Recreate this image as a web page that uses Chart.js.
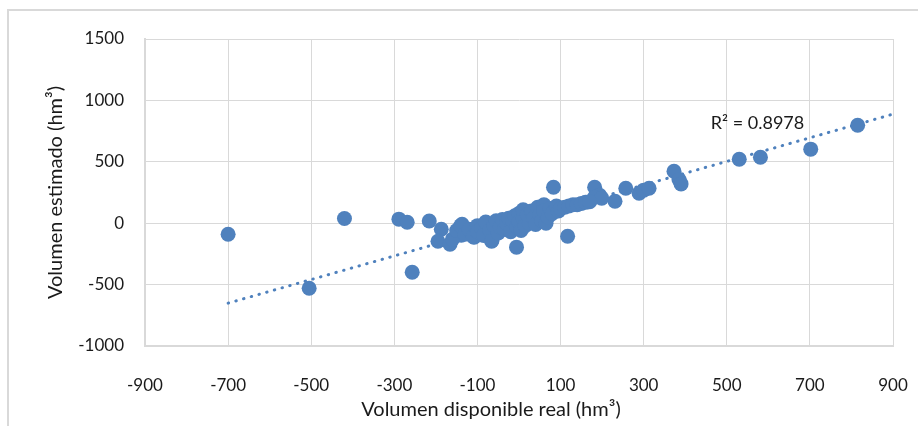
<!DOCTYPE html>
<html>
<head>
<meta charset="utf-8">
<script src="https://cdn.jsdelivr.net/npm/chart.js@4/dist/chart.umd.min.js"></script>
<style>
  html, body { margin: 0; padding: 0; background: #fff; }
  #wrap { position: relative; width: 918px; height: 426px; overflow: hidden; }
  #frame { position: absolute; left: 7px; top: 9px; width: 2000px; height: 2000px;
           border-left: 2px solid #d9d9d9; border-top: 2px solid #d9d9d9; }
  canvas { position: absolute; left: 0; top: 0; }
</style>
</head>
<body>
<div id="wrap">
  <div id="frame"></div>
  <canvas id="c" width="918" height="426"></canvas>
</div>
<script>
// Observed points: real available volume (x) vs estimated volume (y), hm3
const realX = [
  -700, -505, -420, -289, -269, -257, -216,
  -187, -195, -166, -137, -139, -108, -66, -6,
  83, 117, 182, 194, 182, 231, 199, 257, 289, 300, 313,
  373, 385, 390, 530, 581, 702, 815,
  -160, -150, -140, -130, -120, -110, -100, -100, -90, -85,
  -80, -70, -65, -60, -55, -50, -45, -40, -35, -30,
  -25, -20, -15, -10, -5, 0, 0, 5, 10, 10,
  15, 20, 25, 30, 35, 40, 45, 50, 55, 60,
  60, 65, 70, 75, 80, 90, 95, 100, 110, 120,
  130, 140, 150, 160, 170
];
const estY = [
  -90, -530, 38, 33, 8, -399, 18,
  -49, -147, -171, -8, -98, -114, -147, -195,
  293, -106, 293, 228, 212, 179, 204, 285, 244, 269, 285,
  423, 355, 320, 521, 537, 603, 798,
  -130, -60, -20, -90, -50, -110, -20, -70, -40, -100,
  10, -60, -140, -20, 20, -80, -30, 30, -50, 0,
  40, -70, 20, 60, -30, 80, 10, -60, 40, 110,
  -20, 70, 0, 100, 40, -10, 130, 70, 20, 150,
  100, 0, 50, 120, 80, 140, 100, 120, 130, 140,
  150, 150, 160, 170, 175
];
// Linear trendline endpoints
const trendX = [-700, 900];
const trendY = [-651, 888];
const r2Label = 'R² = 0.8978';
const xTitle = 'Volumen disponible real (hm³)';
const yTitle = 'Volumen estimado (hm³)';
const xTicks = [-900, -700, -500, -300, -100, 100, 300, 500, 700, 900];
const yTicks = [-1000, -500, 0, 500, 1000, 1500];

const blue = '#4f81bd';
const grid = '#d9d9d9';
const family = 'Lato, "Open Sans", sans-serif';
const tickFont = { family: family, size: 17 };
const titleFont = { family: family, size: 20 };

const points = realX.map((x, i) => ({ x: x, y: estY[i] }));
const trend = trendX.map((x, i) => ({ x: x, y: trendY[i] }));

const textPlugin = {
  id: 'texts',
  afterDatasetsDraw(chart) {
    const ctx = chart.ctx;
    const xs = chart.scales.x, ys = chart.scales.y;
    ctx.save();
    ctx.fillStyle = '#1a1a1a';
    ctx.textAlign = 'center';
    ctx.textBaseline = 'middle';
    ctx.font = '18px ' + family;
    ctx.fillText(r2Label, xs.getPixelForValue(574), ys.getPixelForValue(814));
    // Excel centres this axis title on the chart frame, not on the plot area
    ctx.font = '20px ' + family;
    ctx.fillText(xTitle, 491, 410);
    ctx.restore();
  }
};

new Chart(document.getElementById('c'), {
  type: 'scatter',
  data: {
    datasets: [
      {
        type: 'line',
        data: trend,
        borderColor: blue,
        borderWidth: 3,
        borderDash: [0.5, 7.5],
        borderCapStyle: 'round',
        pointRadius: 0,
        fill: false,
        order: 2
      },
      {
        data: points,
        backgroundColor: blue,
        borderWidth: 0,
        pointRadius: 7.5,
        pointHoverRadius: 7.5,
        order: 1
      }
    ]
  },
  options: {
    responsive: false,
    animation: false,
    events: [],
    layout: { padding: { top: 39, right: 25, bottom: 0, left: 0 } },
    plugins: { legend: { display: false }, tooltip: { enabled: false } },
    scales: {
      x: {
        type: 'linear',
        min: -900, max: 900,
        afterBuildTicks(s) { s.ticks = xTicks.map(v => ({ value: v })); },
        afterFit(s) { s.height = 80; s.paddingLeft = 0; s.paddingRight = 0; },
        grid: { color: grid, lineWidth: 1, drawTicks: false },
        border: { color: grid, width: 2 },
        ticks: { color: '#1a1a1a', font: tickFont, padding: 29, maxRotation: 0, autoSkip: false,
                 callback: v => String(v) },
        title: { display: false }
      },
      y: {
        type: 'linear',
        min: -1000, max: 1500,
        afterBuildTicks(s) { s.ticks = yTicks.map(v => ({ value: v })); },
        afterFit(s) { s.width = 145; s.paddingTop = 0; s.paddingBottom = 0; },
        grid: { color: grid, lineWidth: 1, drawTicks: false },
        border: { color: grid, width: 2 },
        ticks: { color: '#1a1a1a', font: tickFont, padding: 21, callback: v => String(v) },
        title: { display: true, text: yTitle, color: '#1a1a1a', font: titleFont, padding: { top: 44, bottom: 0 } }
      }
    }
  },
  plugins: [textPlugin]
});
</script>
</body>
</html>
